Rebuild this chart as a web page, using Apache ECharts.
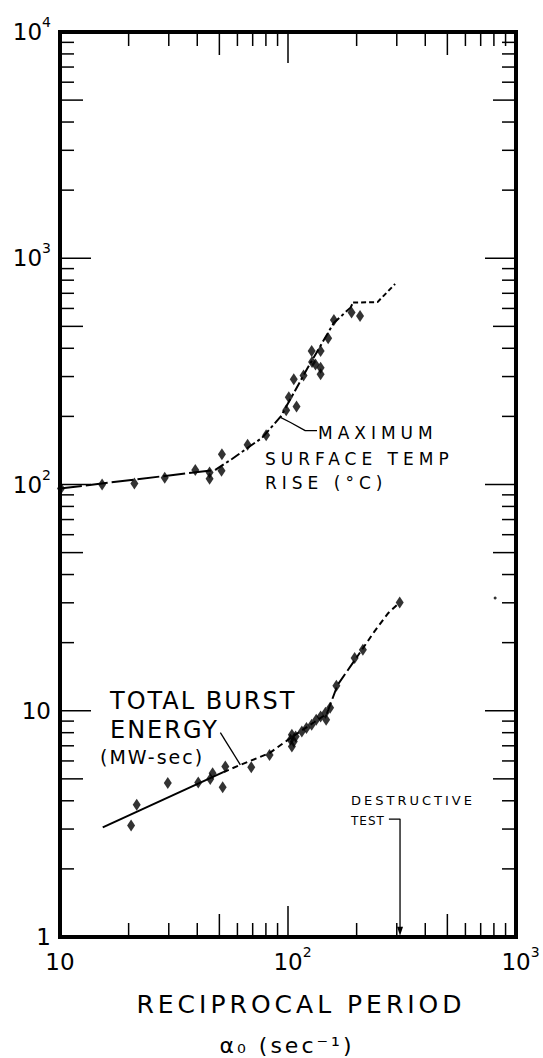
<!DOCTYPE html>
<html>
<head>
<meta charset="utf-8">
<script src="https://cdn.jsdelivr.net/npm/echarts@6/dist/echarts.min.js"></script>
<style>
  body { margin: 0; background: #fff; }
  #main { width: 543px; height: 1058px; }
</style>
</head>
<body>
<div id="main"></div>
<script>
// axis ticks and labels
var xTickVals = [20, 30, 40, 50, 60, 70, 80, 90, 100, 200, 300, 400, 500, 600, 700, 800, 900];
var yTickVals = [2, 3, 4, 5, 6, 7, 8, 9, 10, 20, 30, 40, 50, 60, 70, 80, 90, 100,
                 200, 300, 400, 500, 600, 700, 800, 900, 1000, 2000, 3000, 4000, 5000, 6000, 7000, 8000, 9000];
var xLabelVals = [10, 100, 1000];
var xLabelBase = ['10', '10', '10'];
var xLabelExp = ['', '2', '3'];
var yLabelVals = [1, 10, 100, 1000, 10000];
var yLabelBase = ['1', '10', '10', '10', '10'];
var yLabelExp = ['', '', '2', '3', '4'];

// maximum surface temp rise (°C)
var tempX = [10.1, 15.3, 21.2, 28.8, 39.2, 45.3, 45.3, 51.1, 51.3, 66.5, 80.2, 98.2, 100.8, 109, 106, 117,
             127, 127.5, 132, 139, 139, 139, 150, 159, 190, 207];
var tempY = [96, 100, 101, 107, 116, 113, 106, 115, 136, 150, 165, 213, 243, 221, 292, 303,
             389, 348, 339, 389, 328, 307, 443, 533, 576, 556];
var tempCurveA = [[10, 96], [48, 116]];
var tempCurveB = [[48, 116], [57, 130], [77, 161], [93, 200], [121, 323], [159, 519], [188, 605], [193, 637]];
var tempCurveC = [[193, 637], [247, 640], [295, 770]];

// total burst energy (MW-sec)
var energyX = [20.5, 21.7, 29.7, 40.4, 45.6, 46.7, 51.7, 53.1, 69, 83, 102.6, 104, 104, 106, 108, 115,
               120.5, 127, 133, 139, 146, 147, 153, 163, 196, 213, 309];
var energyY = [3.11, 3.84, 4.79, 4.82, 4.99, 5.30, 4.59, 5.67, 5.63, 6.38, 7.45, 7.83, 6.95, 7.31, 7.7, 8.1,
               8.38, 8.67, 9.12, 9.44, 9.8, 9.12, 10.3, 12.9, 17.1, 18.6, 30.1];
var energyCurveA = [[15.4, 3.05], [52, 5.35]];
var energyCurveB = [[52, 5.35], [62, 5.77], [83, 6.5], [103, 7.6], [148, 9.7]];
var energyCurveC = [[148, 9.7], [165, 13], [200, 17.2]];
var energyCurveD = [[200, 17.2], [240, 22.5], [275, 27], [309, 30.1]];

// leaders, destructive test marker, stray dot
var maxLeader = [[92.7, 198], [102.6, 188], [119, 173], [134, 173]];
var energyLeader = [[50.5, 8.0], [61.8, 5.77]];
var destructX = [277, 310, 310];
var destructY = [3.32, 3.32, 1.06];
var strayX = [810];
var strayY = [31.5];

function pairs(xs, ys) {
  return xs.map(function (x, i) { return [x, ys[i]]; });
}
function labelFor(vals, base, exp) {
  return function (v) {
    for (var i = 0; i < vals.length; i++) {
      if (Math.abs(Math.log10(v) - Math.log10(vals[i])) < 1e-6) {
        // base gets left padding when a superscript follows, so "10" stays on the tick
        return exp[i] ? '{p|' + base[i] + '}{s|' + exp[i] + '}' : '{b|' + base[i] + '}';
      }
    }
    return '';
  };
}
function tickLen(v) {
  var e = Math.log10(v);
  if (Math.abs(e - Math.round(e)) < 1e-6) return 31;
  var d = Math.round(v / Math.pow(10, Math.floor(e + 1e-9)));
  return d === 5 ? 23 : 14;
}
function curve(data, dash, width) {
  return {
    type: 'line', data: data, showSymbol: false, silent: true,
    lineStyle: { color: '#000', width: width || 2, type: dash || 'solid' }
  };
}

var labelRich = {
  b: { fontFamily: 'DejaVu Sans', fontSize: 23, lineHeight: 34, color: '#000' },
  p: { fontFamily: 'DejaVu Sans', fontSize: 23, lineHeight: 34, color: '#000', padding: [0, 0, 0, 9] },
  s: { fontFamily: 'DejaVu Sans', fontSize: 14, lineHeight: 14, verticalAlign: 'top', color: '#000' }
};
// lettering is widely spaced in the original
var spacing = {
  'MAXIMUM': 5, 'SURFACE TEMP': 5, 'RISE (°C)': 5,
  'TOTAL BURST': 2, 'ENERGY': 2, '(MW-sec)': 2,
  'DESTRUCTIVE': 3, 'TEST': 1,
  'RECIPROCAL PERIOD': 4, 'α₀ (sec⁻¹)': 3
};
var txt = { fill: '#000', fontFamily: 'DejaVu Sans', align: 'left', verticalAlign: 'middle' };

var myChart = echarts.init(document.getElementById('main'), null, { renderer: 'svg' });

option = {
  animation: false,
  backgroundColor: '#fff',
  grid: { left: 60, top: 32, width: 456, height: 905, show: true, borderColor: '#000', borderWidth: 4 },
  xAxis: {
    type: 'log', logBase: 10, min: 10, max: 1000,
    axisLine: { show: false }, axisTick: { show: false }, splitLine: { show: false },
    axisLabel: { margin: 8, formatter: labelFor(xLabelVals, xLabelBase, xLabelExp), rich: labelRich }
  },
  yAxis: {
    type: 'log', logBase: 10, min: 1, max: 10000,
    axisLine: { show: false }, axisTick: { show: false }, splitLine: { show: false },
    axisLabel: { margin: 9, formatter: labelFor(yLabelVals, yLabelBase, yLabelExp), rich: labelRich }
  },
  graphic: [
    { type: 'text', x: 318, y: 433, style: Object.assign({ text: 'MAXIMUM', fontSize: 17 }, txt) },
    { type: 'text', x: 265, y: 459, style: Object.assign({ text: 'SURFACE TEMP', fontSize: 17 }, txt) },
    { type: 'text', x: 265, y: 483, style: Object.assign({ text: 'RISE (°C)', fontSize: 17 }, txt) },
    { type: 'text', x: 110, y: 701, style: Object.assign({ text: 'TOTAL BURST', fontSize: 24 }, txt) },
    { type: 'text', x: 110, y: 730, style: Object.assign({ text: 'ENERGY', fontSize: 24 }, txt) },
    { type: 'text', x: 100, y: 757, style: Object.assign({ text: '(MW-sec)', fontSize: 19 }, txt) },
    { type: 'text', x: 351, y: 800, style: Object.assign({ text: 'DESTRUCTIVE', fontSize: 13 }, txt) },
    { type: 'text', x: 351, y: 821, style: Object.assign({ text: 'TEST', fontSize: 12 }, txt) },
    { type: 'text', x: 301, y: 1004, style: Object.assign({ text: 'RECIPROCAL PERIOD', fontSize: 25 }, txt, { align: 'center' }) },
    { type: 'text', x: 287, y: 1045, style: Object.assign({ text: 'α₀ (sec⁻¹)', fontSize: 22 }, txt, { align: 'center' }) }
  ],
  series: [
    {
      type: 'custom', silent: true,
      data: xTickVals.map(function (v) { return [v, 1]; }),
      renderItem: function (params, api) {
        var v = api.value(0), b = api.coord([v, 1]), t = api.coord([v, 10000]), len = tickLen(v);
        return { type: 'group', children: [
          { type: 'line', shape: { x1: b[0], y1: b[1], x2: b[0], y2: b[1] - len }, style: { stroke: '#000', lineWidth: 1.5 } },
          { type: 'line', shape: { x1: t[0], y1: t[1], x2: t[0], y2: t[1] + len }, style: { stroke: '#000', lineWidth: 1.5 } }
        ] };
      }
    },
    {
      type: 'custom', silent: true,
      data: yTickVals.map(function (v) { return [10, v]; }),
      renderItem: function (params, api) {
        var v = api.value(1), l = api.coord([10, v]), r = api.coord([1000, v]), len = tickLen(v);
        return { type: 'group', children: [
          { type: 'line', shape: { x1: l[0], y1: l[1], x2: l[0] + len, y2: l[1] }, style: { stroke: '#000', lineWidth: 1.5 } },
          { type: 'line', shape: { x1: r[0], y1: r[1], x2: r[0] - len, y2: r[1] }, style: { stroke: '#000', lineWidth: 1.5 } }
        ] };
      }
    },
    curve(tempCurveA, [22, 4]),
    curve(tempCurveB, [10, 3, 3, 3]),
    curve(tempCurveC, [5, 3]),
    curve(energyCurveA),
    curve(energyCurveB, [6, 4]),
    curve(energyCurveC, [12, 4]),
    curve(energyCurveD, [6, 4]),
    curve(maxLeader, 'solid', 1.3),
    curve(energyLeader, 'solid', 1.3),
    {
      type: 'scatter', silent: true, symbol: 'diamond', symbolSize: [8, 12],
      itemStyle: { color: '#000' }, data: pairs(tempX, tempY)
    },
    {
      type: 'scatter', silent: true, symbol: 'diamond', symbolSize: [8, 12],
      itemStyle: { color: '#000' }, data: pairs(energyX, energyY)
    },
    {
      type: 'line', silent: true, showSymbol: true, symbol: 'none',
      lineStyle: { color: '#000', width: 1.3 }, itemStyle: { color: '#000' },
      data: pairs(destructX, destructY).map(function (p, i) {
        return i === destructX.length - 1 ? { value: p, symbol: 'triangle', symbolSize: [6, 9], symbolRotate: 180 } : p;
      })
    },
    {
      type: 'scatter', silent: true, symbol: 'circle', symbolSize: 3,
      itemStyle: { color: '#000' }, data: pairs(strayX, strayY)
    }
  ]
};

function applySpacing() {
  var nodes = document.querySelectorAll('#main text');
  for (var i = 0; i < nodes.length; i++) {
    var s = spacing[nodes[i].textContent];
    if (s) nodes[i].style.letterSpacing = s + 'px';
  }
}
myChart.on('finished', applySpacing);
myChart.setOption(option);
applySpacing();
</script>
</body>
</html>
